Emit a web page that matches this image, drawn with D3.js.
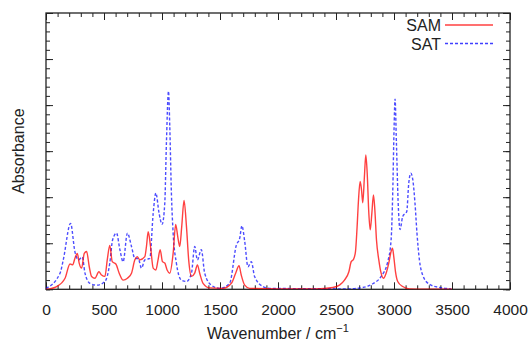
<!DOCTYPE html>
<html>
<head>
<meta charset="utf-8">
<script src="https://cdn.jsdelivr.net/npm/d3@7"></script>
<style>
  body { margin: 0; background: #fff; }
  svg { display: block; font-family: "Liberation Sans", Arial, sans-serif; }
  .tick text { font-size: 15.5px; fill: #222; }
</style>
</head>
<body>
<svg id="chart" width="531" height="341"></svg>
<script>
// wavenumber (cm-1) and absorbance
const samWave = [0, 92, 164, 207, 230, 249, 270, 286, 307, 330, 350, 373, 393, 422, 456, 479, 508, 528, 550, 571, 602, 631, 665, 702, 737, 766, 786, 809, 852, 866, 881, 901, 924, 947, 966, 984, 1004, 1024, 1044, 1067, 1096, 1118, 1136, 1153, 1170, 1190, 1211, 1230, 1254, 1282, 1305, 1325, 1354, 1412, 1526, 1598, 1635, 1664, 1683, 1713, 1756, 2000, 2330, 2473, 2530, 2573, 2611, 2631, 2651, 2668, 2682, 2694, 2708, 2720, 2731, 2745, 2757, 2769, 2783, 2795, 2809, 2823, 2835, 2849, 2869, 2889, 2909, 2932, 2955, 2975, 2987, 2998, 3013, 3032, 3075, 3133, 3247, 3500];
const samAbs  = [0.0, 0.06, 0.24, 0.55, 0.53, 0.67, 0.78, 0.57, 0.46, 0.78, 0.82, 0.49, 0.28, 0.24, 0.38, 0.31, 0.28, 0.64, 0.95, 0.60, 0.55, 0.35, 0.20, 0.24, 0.35, 0.64, 0.71, 0.64, 0.71, 0.93, 1.25, 0.93, 0.46, 0.42, 0.64, 0.86, 0.60, 0.57, 0.42, 0.35, 0.78, 1.41, 1.14, 0.93, 1.36, 1.93, 1.36, 0.64, 0.28, 0.35, 0.53, 0.35, 0.13, 0.03, 0.02, 0.13, 0.35, 0.51, 0.31, 0.09, 0.02, 0.01, 0.01, 0.04, 0.09, 0.20, 0.38, 0.60, 0.65, 0.82, 1.36, 1.94, 2.34, 2.16, 1.88, 2.45, 2.92, 2.52, 1.65, 1.29, 1.65, 2.05, 1.72, 1.07, 0.64, 0.35, 0.24, 0.35, 0.57, 0.82, 0.89, 0.71, 0.38, 0.17, 0.06, 0.01, 0.0, 0.0];

const satWave = [0, 121, 149, 212, 249, 279, 313, 336, 379, 436, 508, 550, 574, 608, 637, 665, 702, 737, 766, 795, 823, 852, 895, 924, 947, 975, 1001, 1024, 1038, 1056, 1067, 1081, 1096, 1124, 1167, 1211, 1254, 1282, 1305, 1339, 1368, 1425, 1497, 1583, 1641, 1670, 1689, 1713, 1741, 1770, 1798, 1870, 1928, 2616, 2731, 2817, 2889, 2946, 2975, 2989, 3001, 3009, 3021, 3035, 3052, 3075, 3110, 3127, 3145, 3162, 3181, 3198, 3219, 3247, 3305, 3391, 3491];
const satAbs  = [0.02, 0.35, 0.64, 1.43, 0.82, 0.64, 0.70, 0.35, 0.13, 0.09, 0.17, 0.57, 1.07, 1.22, 0.86, 0.60, 1.22, 0.93, 0.67, 0.67, 0.46, 0.64, 0.67, 1.65, 2.09, 1.65, 1.41, 1.87, 3.17, 4.30, 3.54, 2.09, 1.22, 0.57, 0.20, 0.17, 0.35, 0.93, 0.64, 0.86, 0.35, 0.09, 0.02, 0.13, 0.96, 1.11, 1.38, 1.04, 0.49, 0.60, 0.28, 0.06, 0.02, 0.01, 0.04, 0.12, 0.28, 0.60, 1.07, 2.09, 3.54, 4.13, 3.17, 1.94, 1.30, 1.58, 1.69, 2.30, 2.52, 2.38, 1.87, 1.22, 0.64, 0.31, 0.11, 0.04, 0.01];

const xTickValues = [0, 500, 1000, 1500, 2000, 2500, 3000, 3500, 4000];
const seriesNames = ["SAM", "SAT"];
const seriesColors = ["#ff0000", "#0000ff"];

const margin = { left: 46, right: 21, top: 13, bottom: 51.7 };
const W = 531, H = 341;
const iw = W - margin.left - margin.right;
const ih = H - margin.top - margin.bottom;

const svg = d3.select("#chart");
const g = svg.append("g").attr("transform", `translate(${margin.left},${margin.top})`);

const x = d3.scaleLinear().domain([0, 4000]).range([0, iw]);
const y = d3.scaleLinear().domain([0, 6]).range([ih, 0]);

const minorX = d3.range(0, 4001, 100);
const minorY = d3.range(0, 6.01, 0.2);

function styleAxis(sel) {
  sel.select(".domain").remove();
  sel.selectAll(".tick line").attr("stroke", "#222").attr("stroke-width", 1);
}

// minor ticks (inward, all four sides)
g.append("g").attr("transform", `translate(0,${ih})`)
  .call(d3.axisBottom(x).tickValues(minorX).tickSize(-4).tickFormat("")).call(styleAxis);
g.append("g")
  .call(d3.axisTop(x).tickValues(minorX).tickSize(-4).tickFormat("")).call(styleAxis);
g.append("g")
  .call(d3.axisLeft(y).tickValues(minorY).tickSize(-4).tickFormat("")).call(styleAxis);
g.append("g").attr("transform", `translate(${iw},0)`)
  .call(d3.axisRight(y).tickValues(minorY).tickSize(-4).tickFormat("")).call(styleAxis);

// major ticks
g.append("g").attr("transform", `translate(0,${ih})`)
  .call(d3.axisBottom(x).tickValues(xTickValues).tickSizeInner(-7).tickPadding(15).tickFormat(d3.format("d")))
  .call(styleAxis);
g.append("g")
  .call(d3.axisTop(x).tickValues(xTickValues).tickSize(-7).tickFormat("")).call(styleAxis);
g.append("g")
  .call(d3.axisLeft(y).ticks(6).tickSize(-7).tickFormat("")).call(styleAxis);
g.append("g").attr("transform", `translate(${iw},0)`)
  .call(d3.axisRight(y).ticks(6).tickSize(-7).tickFormat("")).call(styleAxis);

// frame
g.append("rect")
  .attr("width", iw).attr("height", ih)
  .attr("fill", "none").attr("stroke", "#222").attr("stroke-width", 1.3);

// curves
const line = d3.line()
  .x(d => x(d[0]))
  .y(d => y(d[1]))
  .curve(d3.curveMonotoneX);

svg.append("defs").append("clipPath").attr("id", "clip")
  .append("rect").attr("width", iw).attr("height", ih);

const curves = g.append("g").attr("clip-path", "url(#clip)");

curves.append("path")
  .datum(d3.zip(satWave, satAbs))
  .attr("d", line)
  .attr("fill", "none")
  .attr("stroke", seriesColors[1])
  .attr("stroke-width", 1.4)
  .attr("stroke-dasharray", "3,2")
  .attr("stroke-opacity", 0.7);

curves.append("path")
  .datum(d3.zip(samWave, samAbs))
  .attr("d", line)
  .attr("fill", "none")
  .attr("stroke", seriesColors[0])
  .attr("stroke-width", 1.4)
  .attr("stroke-opacity", 0.75);

// legend
const legend = svg.append("g");
seriesNames.forEach((name, i) => {
  const ly = 25 + i * 18.5;
  legend.append("text")
    .attr("x", 441).attr("y", ly + 6)
    .attr("text-anchor", "end")
    .attr("font-size", 16).attr("fill", "#222")
    .text(name);
  legend.append("line")
    .attr("x1", 445).attr("x2", 493)
    .attr("y1", ly).attr("y2", ly)
    .attr("stroke", seriesColors[i])
    .attr("stroke-width", 1.4)
    .attr("stroke-opacity", 0.75)
    .attr("stroke-dasharray", i === 1 ? "3,2" : null);
});

// axis titles
const xt = svg.append("text")
  .attr("x", margin.left + iw / 2).attr("y", 338.5)
  .attr("text-anchor", "middle")
  .attr("font-size", 16).attr("fill", "#222");
xt.append("tspan").text("Wavenumber / cm");
xt.append("tspan").attr("dy", -7).attr("font-size", 11).text("\u22121");

svg.append("text")
  .attr("transform", `translate(24,${margin.top + ih / 2}) rotate(-90)`)
  .attr("text-anchor", "middle")
  .attr("font-size", 16).attr("fill", "#222")
  .text("Absorbance");
</script>
</body>
</html>
